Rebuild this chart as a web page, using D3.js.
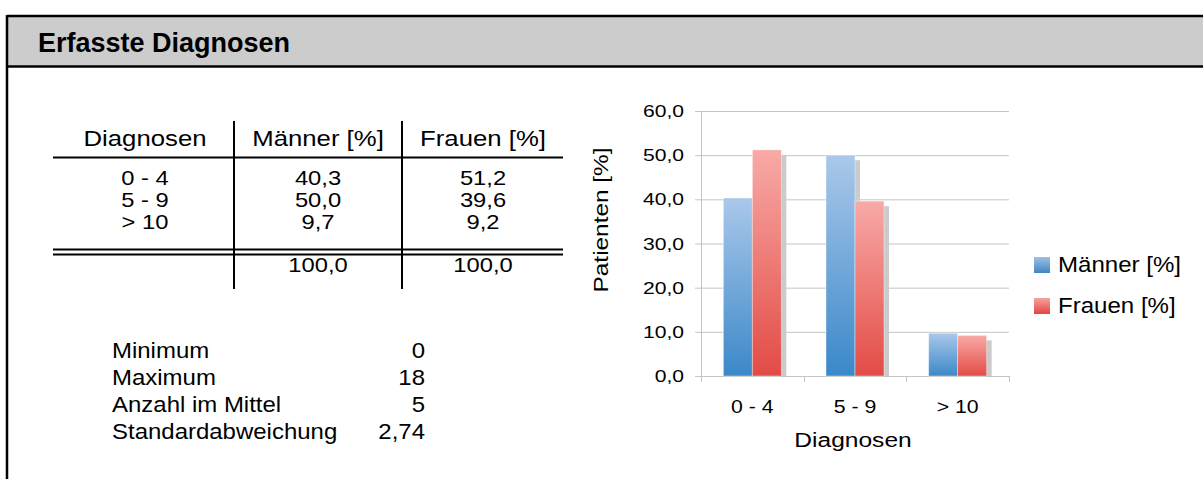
<!DOCTYPE html>
<html><head><meta charset="utf-8">
<script src="https://cdn.jsdelivr.net/npm/d3@7"></script>
<style>
html,body{margin:0;padding:0;background:#fff;}
svg{display:block;font-family:"Liberation Sans",Arial,sans-serif;}
</style></head>
<body>
<svg id="c" width="1203" height="479"></svg>
<script>
// ---- data ----
const title = "Erfasste Diagnosen";
const categories = ["0 - 4", "5 - 9", "> 10"];
const maenner = [40.3, 50.0, 9.7];
const frauen = [51.2, 39.6, 9.2];
const totals = [100.0, 100.0];
const tableHeaders = ["Diagnosen", "Männer [%]", "Frauen [%]"];
const seriesNames = ["Männer [%]", "Frauen [%]"];
const statLabels = ["Minimum", "Maximum", "Anzahl im Mittel", "Standardabweichung"];
const statValues = [0, 18, 5, 2.74];
const yTicks = [0, 10, 20, 30, 40, 50, 60];
const xTitle = "Diagnosen";
const yTitle = "Patienten [%]";

const de = d3.formatLocale({decimal: ",", thousands: ".", grouping: [3], currency: ["", " €"]});
const f1 = de.format(".1f");
const fStat = v => Number.isInteger(v) ? String(v) : de.format(".2f")(v);

// the source font is a little wider than Liberation Sans: stretch horizontally
const tf = (x, y, sx, rot = 0) => `translate(${x},${y})${rot ? ` rotate(${rot})` : ""} scale(${sx},1)`;

const svg = d3.select("#c");

// ---- frame & header ----
svg.append("rect").attr("x", 7).attr("y", 16).attr("width", 1300).attr("height", 50)
  .attr("fill", "#cccccc");
svg.append("line").attr("x1", 7).attr("x2", 1203).attr("y1", 16).attr("y2", 16)
  .attr("stroke", "#000").attr("stroke-width", 2.5);
svg.append("line").attr("x1", 7).attr("x2", 1203).attr("y1", 66.5).attr("y2", 66.5)
  .attr("stroke", "#000").attr("stroke-width", 2.5);
svg.append("line").attr("x1", 7).attr("x2", 7).attr("y1", 15).attr("y2", 479)
  .attr("stroke", "#000").attr("stroke-width", 2.5);
svg.append("text").attr("transform", tf(38, 52, 1.0)).attr("font-size", 27).attr("font-weight", "bold")
  .text(title);

// ---- table ----
const colX = [145, 318, 483];
const tbl = svg.append("g");
tbl.selectAll("text.h").data(tableHeaders).join("text")
  .attr("transform", (d, i) => tf(colX[i], 146, 1.17)).attr("text-anchor", "middle")
  .attr("font-size", 22).text(d => d);
const rowY = [185, 207, 229];
categories.forEach((c, r) => {
  const vals = [c, f1(maenner[r]), f1(frauen[r])];
  tbl.selectAll(null).data(vals).join("text")
    .attr("transform", (d, i) => tf(colX[i], rowY[r], 1.13)).attr("text-anchor", "middle")
    .attr("font-size", 21).text(d => d);
});
tbl.selectAll(null).data(totals).join("text")
  .attr("transform", (d, i) => tf(colX[i + 1], 272, 1.13)).attr("text-anchor", "middle")
  .attr("font-size", 21).text(d => f1(d));
tbl.append("line").attr("x1", 53).attr("x2", 563).attr("y1", 157.5).attr("y2", 157.5)
  .attr("stroke", "#000").attr("stroke-width", 2);
tbl.append("line").attr("x1", 53).attr("x2", 563).attr("y1", 249.5).attr("y2", 249.5)
  .attr("stroke", "#000").attr("stroke-width", 2);
tbl.append("line").attr("x1", 53).attr("x2", 563).attr("y1", 254.5).attr("y2", 254.5)
  .attr("stroke", "#000").attr("stroke-width", 2);
[234, 402].forEach(x => {
  tbl.append("line").attr("x1", x).attr("x2", x).attr("y1", 121).attr("y2", 289)
    .attr("stroke", "#000").attr("stroke-width", 2);
});

// ---- stats ----
const st = svg.append("g");
st.selectAll("text.l").data(statLabels).join("text")
  .attr("transform", (d, i) => tf(112, 358 + i * 27, 1.09)).attr("font-size", 22).text(d => d);
st.selectAll("text.v").data(statValues).join("text")
  .attr("transform", (d, i) => tf(425, 358 + i * 27, 1.09)).attr("text-anchor", "end")
  .attr("font-size", 22).text(d => fStat(d));

// ---- chart ----
const x0 = d3.scaleBand().domain(categories).range([701, 1009]).paddingInner(0).paddingOuter(0);
const inner = 58;
const x1 = d3.scaleBand().domain(seriesNames).range([0, inner]);
const y = d3.scaleLinear().domain([0, 60]).range([376, 111]);

const defs = svg.append("defs");
const grads = [
  {id: "gBlue", top: "#aac8ea", bot: "#3b88c9"},
  {id: "gRed", top: "#f8aaa7", bot: "#e34b45"},
  {id: "lBlue", top: "#9fc0e6", bot: "#3d86c6"},
  {id: "lRed", top: "#f6a3a0", bot: "#e2443e"}
];
grads.forEach(g => {
  const lg = defs.append("linearGradient").attr("id", g.id)
    .attr("x1", 0).attr("y1", 0).attr("x2", 0).attr("y2", 1);
  lg.append("stop").attr("offset", "0%").attr("stop-color", g.top);
  lg.append("stop").attr("offset", "100%").attr("stop-color", g.bot);
});

const ch = svg.append("g");
ch.selectAll("line.grid").data(yTicks).join("line")
  .attr("x1", 695).attr("x2", 1009).attr("y1", d => y(d) + 0.5).attr("y2", d => y(d) + 0.5)
  .attr("stroke", "#c4c4c4").attr("stroke-width", 1);
ch.append("line").attr("x1", 701.5).attr("x2", 701.5).attr("y1", y(60)).attr("y2", y(0))
  .attr("stroke", "#c4c4c4");
ch.selectAll("text.yt").data(yTicks).join("text")
  .attr("transform", d => tf(684, y(d) + 6, 1.28)).attr("text-anchor", "end")
  .attr("font-size", 16.5).text(d => f1(d));
const xTickPos = [701, ...categories.map(c => x0(c) + x0.bandwidth())];
ch.selectAll("line.xt").data(xTickPos).join("line")
  .attr("x1", d => Math.round(d) + 0.5).attr("x2", d => Math.round(d) + 0.5)
  .attr("y1", y(0)).attr("y2", y(0) + 6).attr("stroke", "#c4c4c4");

const series = [
  {name: seriesNames[0], vals: maenner, grad: "gBlue"},
  {name: seriesNames[1], vals: frauen, grad: "gRed"}
];
const off = (x0.bandwidth() - inner) / 2;
series.forEach(s => {
  ch.selectAll(null).data(categories).join("rect")
    .attr("x", (c) => x0(c) + off + x1(s.name) + 5)
    .attr("y", (c, i) => y(s.vals[i]) + 5)
    .attr("width", x1.bandwidth())
    .attr("height", (c, i) => Math.max(0, y(0) - y(s.vals[i]) - 5))
    .attr("fill", "#cbcbcb");
});
series.forEach(s => {
  ch.selectAll(null).data(categories).join("rect")
    .attr("x", (c) => x0(c) + off + x1(s.name))
    .attr("y", (c, i) => y(s.vals[i]))
    .attr("width", x1.bandwidth())
    .attr("height", (c, i) => y(0) - y(s.vals[i]))
    .attr("fill", `url(#${s.grad})`)
    .attr("stroke", "rgba(255,255,255,0.5)").attr("stroke-width", 0.8);
});
ch.selectAll("text.xl").data(categories).join("text")
  .attr("transform", c => tf(x0(c) + x0.bandwidth() / 2, 413, 1.15)).attr("text-anchor", "middle")
  .attr("font-size", 18.5).text(d => d);
ch.append("text").attr("transform", tf(853, 447, 1.17)).attr("text-anchor", "middle")
  .attr("font-size", 21).text(xTitle);
ch.append("text").attr("transform", tf(608, 220, 1.16, -90))
  .attr("text-anchor", "middle").attr("font-size", 21).text(yTitle);

// legend
const lgG = svg.append("g");
seriesNames.forEach((n, i) => {
  lgG.append("rect").attr("x", 1034).attr("y", 257 + i * 41).attr("width", 16).attr("height", 16)
    .attr("fill", `url(#${grads[i + 2].id})`);
  lgG.append("text").attr("transform", tf(1058, 272 + i * 41, 1.12)).attr("font-size", 21.5).text(n);
});
</script>
</body></html>
